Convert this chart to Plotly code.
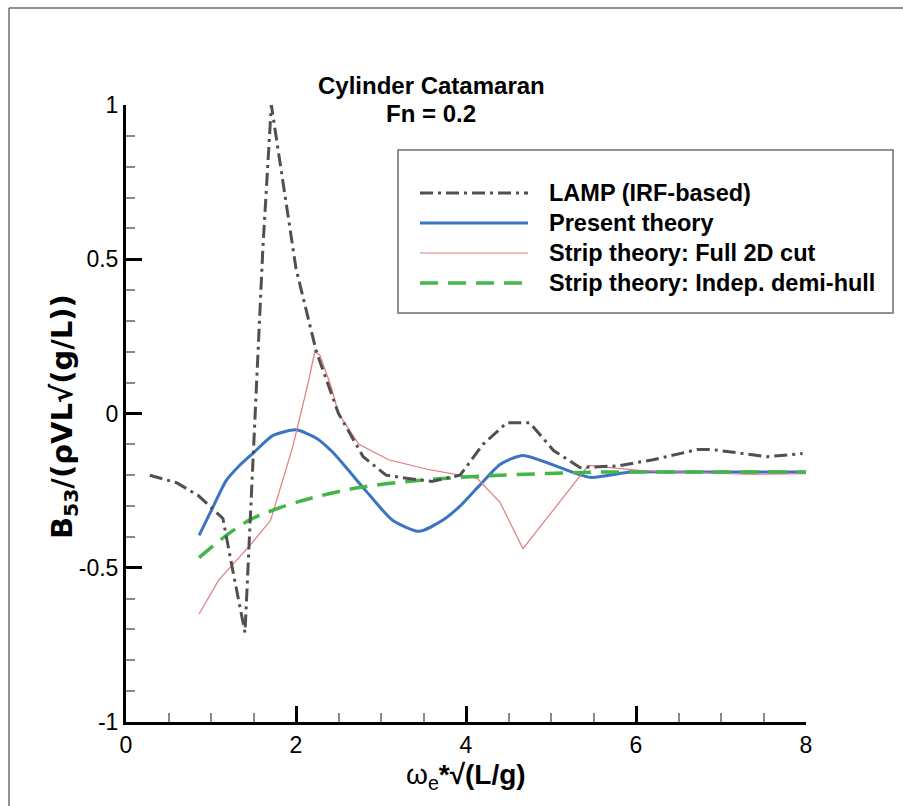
import plotly.graph_objects as go

# Non-dimensional encounter frequency and B53 damping coefficient curves
lamp_x = [0.28, 0.6, 0.85, 1.14, 1.25, 1.4, 1.53, 1.61, 1.71, 1.8, 2.0, 2.24, 2.5,
          2.79, 3.06, 3.3, 3.6, 3.93, 4.2, 4.48, 4.75, 5.03, 5.34, 5.78, 6.2,
          6.72, 6.9, 7.54, 7.96]
lamp_y = [-0.2, -0.225, -0.266, -0.34, -0.5, -0.71, 0.06, 0.535, 1.0, 0.84, 0.47,
          0.2, 0.0, -0.14, -0.2, -0.21, -0.22, -0.2, -0.1, -0.03, -0.03, -0.12,
          -0.175, -0.17, -0.15, -0.117, -0.117, -0.14, -0.13]

present_x = [0.86, 1.02, 1.18, 1.33, 1.49, 1.73, 2.0, 2.24, 2.43, 2.62, 2.82, 3.14,
             3.45, 3.72, 3.93, 4.16, 4.4, 4.67, 5.46, 5.93, 6.5, 7.0, 7.5, 8.0]
present_y = [-0.395, -0.305, -0.217, -0.17, -0.13, -0.071, -0.053, -0.08, -0.125,
             -0.185, -0.25, -0.347, -0.382, -0.347, -0.3, -0.233, -0.165, -0.136,
             -0.207, -0.19, -0.19, -0.19, -0.19, -0.19]

full2d_x = [0.86, 1.09, 1.45, 1.7, 1.96, 2.15, 2.22, 2.28, 2.41, 2.5, 2.74, 3.09,
            3.53, 4.13, 4.4, 4.67, 5.44, 6.05, 7.3, 8.0]
full2d_y = [-0.65, -0.54, -0.43, -0.347, -0.11, 0.107, 0.2, 0.19, 0.09, 0.0, -0.1,
            -0.15, -0.18, -0.21, -0.288, -0.438, -0.168, -0.185, -0.197, -0.195]

demihull_x = [0.86, 1.18, 1.49, 2.04, 2.74, 3.53, 4.4, 5.58, 6.0, 7.0, 8.0]
demihull_y = [-0.467, -0.395, -0.34, -0.285, -0.24, -0.215, -0.2, -0.19, -0.19,
              -0.19, -0.19]

y_tickvals = [-1, -0.5, 0, 0.5, 1]
y_ticktext = ["-1", "-0.5", "0", "0.5", "1"]
x_tickvals = [0, 2, 4, 6, 8]
x_ticktext = ["0", "2", "4", "6", "8"]

series_names = ["LAMP (IRF-based)", "Present theory",
                "Strip theory: Full 2D cut", "Strip theory: Indep. demi-hull"]

FONT = "Liberation Sans, Arial, sans-serif"
WIDE_FONT = "DejaVu Sans, Verdana, sans-serif"
W, H = 903, 806
L, R, T, B = 126, 97, 105, 84
PW, PH = W - L - R, H - T - B


def px_x(p):
    return (p - L) / PW


def px_y(p):
    return (H - B - p) / PH


LAMP_STYLE = dict(color="#505050", width=3, dash="13px,5px,3px,5px")
PRESENT_STYLE = dict(color="#3a74c2", width=3)
FULL_STYLE = dict(color="#e57a7c", width=1.2)
DEMI_STYLE = dict(color="#41b649", width=3.5, dash="18px,10px")

fig = go.Figure()
fig.add_trace(go.Scatter(x=present_x, y=present_y, mode="lines",
                         line=dict(**PRESENT_STYLE, shape="spline", smoothing=0.6),
                         name=series_names[1], showlegend=False))
fig.add_trace(go.Scatter(x=full2d_x, y=full2d_y, mode="lines", line=FULL_STYLE,
                         name=series_names[2], showlegend=False))
fig.add_trace(go.Scatter(x=demihull_x, y=demihull_y, mode="lines",
                         line=dict(**DEMI_STYLE, shape="spline", smoothing=0.8),
                         name=series_names[3], showlegend=False))
fig.add_trace(go.Scatter(x=lamp_x, y=lamp_y, mode="lines", line=LAMP_STYLE,
                         name=series_names[0], showlegend=False))

tick_font = dict(family=FONT, size=23, color="black")

xaxis = dict(range=[0, 8], tickmode="array", tickvals=x_tickvals,
             ticktext=x_ticktext, tickfont=tick_font,
             showline=True, linecolor="black", linewidth=3,
             ticks="inside", ticklen=16, tickwidth=3, tickcolor="black",
             showgrid=False, zeroline=False,
             minor=dict(ticks="inside", ticklen=9, tickwidth=1.5,
                        tickcolor="#8a8a8a", dtick=0.5, tick0=0))
yaxis = dict(range=[-1, 1], tickmode="array", tickvals=y_tickvals,
             ticktext=y_ticktext, tickfont=tick_font,
             showline=True, linecolor="black", linewidth=3,
             ticks="inside", ticklen=16, tickwidth=3, tickcolor="black",
             showgrid=False, zeroline=False,
             minor=dict(ticks="inside", ticklen=9, tickwidth=1.5,
                        tickcolor="#8a8a8a", dtick=0.1, tick0=0))

shapes = []
annotations = []

# outer frame (left and top edges)
shapes.append(dict(type="line", xref="paper", yref="paper",
                   x0=px_x(9), x1=px_x(W + 5), y0=px_y(8), y1=px_y(8),
                   line=dict(color="#6e6e6e", width=1.5)))
shapes.append(dict(type="line", xref="paper", yref="paper",
                   x0=px_x(9), x1=px_x(9), y0=px_y(8), y1=px_y(H + 5),
                   line=dict(color="#6e6e6e", width=1.5)))

# legend box
shapes.append(dict(type="rect", xref="paper", yref="paper",
                   x0=px_x(398), x1=px_x(893), y0=px_y(150), y1=px_y(313),
                   line=dict(color="#6e6e6e", width=1.5), fillcolor="white",
                   layer="below"))
legend_rows = [193, 223, 253, 283]
legend_styles = [LAMP_STYLE, PRESENT_STYLE, FULL_STYLE, DEMI_STYLE]
for name, row, style in zip(series_names, legend_rows, legend_styles):
    shapes.append(dict(type="line", xref="paper", yref="paper",
                       x0=px_x(420), x1=px_x(528), y0=px_y(row), y1=px_y(row),
                       line=style))
    annotations.append(dict(xref="paper", yref="paper", x=px_x(547), y=px_y(row),
                            xanchor="left", yanchor="middle", showarrow=False,
                            text="<b>%s</b>" % name,
                            font=dict(family=FONT, size=23.5, color="black")))

# title lines
annotations.append(dict(xref="paper", yref="paper", x=px_x(431), y=px_y(85),
                        xanchor="center", yanchor="middle", showarrow=False,
                        text="<b>Cylinder Catamaran</b>",
                        font=dict(family=FONT, size=24, color="black")))
annotations.append(dict(xref="paper", yref="paper", x=px_x(431), y=px_y(113),
                        xanchor="center", yanchor="middle", showarrow=False,
                        text="<b>Fn = 0.2</b>",
                        font=dict(family=FONT, size=24, color="black")))

# axis titles
annotations.append(dict(xref="paper", yref="paper", x=px_x(466), y=px_y(777),
                        xanchor="center", yanchor="middle", showarrow=False,
                        text="ω<sub>e</sub><b>*√(L/g)</b>",
                        font=dict(family=FONT, size=28, color="black")))
annotations.append(dict(xref="paper", yref="paper", x=px_x(64), y=px_y(417),
                        xanchor="center", yanchor="middle", showarrow=False,
                        textangle=-90,
                        text="<b>B<sub>53</sub>/(ρVL√(g/L))</b>",
                        font=dict(family=WIDE_FONT, size=29, color="black")))

fig.update_layout(width=W, height=H, margin=dict(l=L, r=R, t=T, b=B),
                  paper_bgcolor="white", plot_bgcolor="white",
                  xaxis=xaxis, yaxis=yaxis,
                  showlegend=False, shapes=shapes, annotations=annotations,
                  font=dict(family=FONT, color="black", size=22))

fig.write_html("out.html")
